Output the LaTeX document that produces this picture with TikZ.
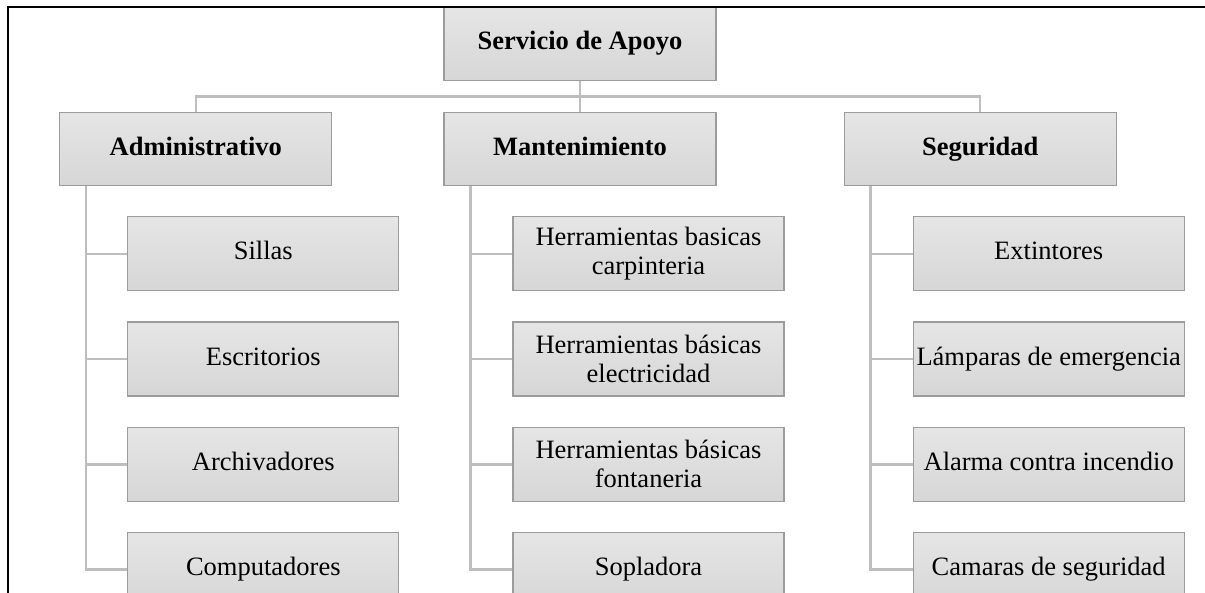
\documentclass[tikz,border=0pt]{standalone}
\usepackage{fontspec}
\setmainfont{Liberation Serif}
\usetikzlibrary{positioning}

\definecolor{boxline}{HTML}{9C9C9C}
\definecolor{linkgray}{HTML}{BEBEBE}

\begin{document}
\begin{tikzpicture}[x=1pt,y=-1pt,
  every node/.style={draw=boxline,line width=1.2pt,top color=black!10,bottom color=black!16,
    align=center,inner xsep=2pt,font=\fontsize{26.5}{29}\selectfont},
  head/.style={minimum width=272pt,minimum height=73pt,text height=18pt,text depth=6pt,
    font=\fontsize{26.5}{29}\selectfont\bfseries},
  item/.style={minimum width=271pt,minimum height=74pt},
  one/.style={item,text height=18pt,text depth=6pt},
  link/.style={draw=linkgray,line width=2.5pt}]
  \useasboundingbox (0,0) rectangle (1205,593);
  % levels
  \node[head] (sa) at (580,44) {Servicio de Apoyo};
  \node[head] (man) [below=31pt of sa] {Mantenimiento};
  \node[head] (adm) [left=111pt of man] {Administrativo};
  \node[head] (seg) [right=127pt of man] {Seguridad};
  \path (sa.south) -- (man.north) coordinate[midway] (bus);
  \draw[link] (adm.north) |- (bus) -| (seg.north);
  \draw[link] (sa.south) -- (man.north);
  % administrativo
  \node[one] (adm1) [below=30pt of adm.south west,anchor=north west,xshift=68pt] {Sillas};
  \node[one] (adm2) [below=30pt of adm1] {Escritorios};
  \node[one] (adm3) [below=30pt of adm2] {Archivadores};
  \node[one] (adm4) [below=30pt of adm3] {Computadores};
  % mantenimiento
  \node[item] (man1) [below=30pt of man.south west,anchor=north west,xshift=69pt] {Herramientas basicas\\carpinteria};
  \node[item] (man2) [below=30pt of man1] {Herramientas básicas\\electricidad};
  \node[item] (man3) [below=30pt of man2] {Herramientas básicas\\fontaneria};
  \node[one] (man4) [below=30pt of man3] {Sopladora};
  % seguridad
  \node[one] (seg1) [below=30pt of seg.south west,anchor=north west,xshift=69pt] {Extintores};
  \node[one] (seg2) [below=30pt of seg1] {Lámparas de emergencia};
  \node[one] (seg3) [below=30pt of seg2] {Alarma contra incendio};
  \node[one] (seg4) [below=30pt of seg3] {Camaras de seguridad};
  \foreach \p in {adm,man,seg}
    \foreach \i in {1,...,4}
      \draw[link] ([xshift=27pt]\p.south west) |- (\p\i.west);
  % frame
  \draw[line width=2pt,line cap=rect] (8,593) -- (8,7) -- (1205,7);
\end{tikzpicture}
\end{document}
